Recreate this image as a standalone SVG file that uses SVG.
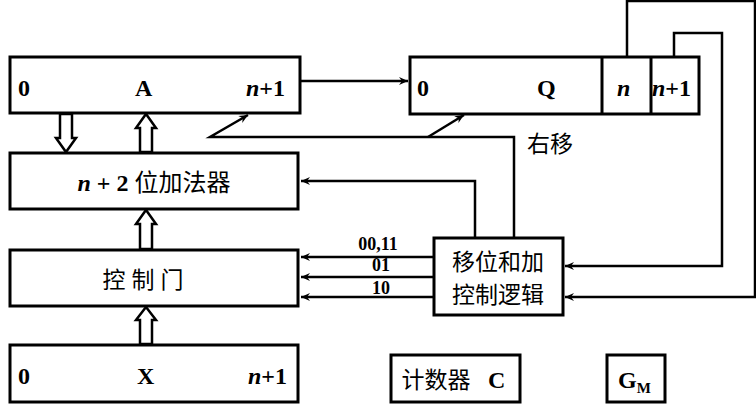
<svg xmlns="http://www.w3.org/2000/svg" width="756" height="412" viewBox="0 0 756 412">
<style>
.b{fill:#fff;stroke:#000;stroke-width:3}
.l{fill:none;stroke:#000;stroke-width:2.5}
.h{fill:#fff;stroke:#000;stroke-width:2.5}
.t{font-family:"Liberation Serif","Noto Sans CJK SC",serif;font-weight:bold;font-size:24px}
.c{font-family:"Noto Sans CJK SC",serif;font-size:23px}
.s{font-family:"Liberation Serif",serif;font-weight:bold;font-size:18px}
</style>
<defs><marker id="a" markerWidth="10" markerHeight="10" refX="9" refY="5" orient="auto" markerUnits="userSpaceOnUse"><path d="M0,1 L9,5 L0,9 L3,5Z"/></marker></defs>
<rect width="756" height="412" fill="#fff"/>
<g id="regA"><rect class="b" x="10" y="57" width="290" height="56"/><text class="t" x="18" y="96">0</text><text class="t" x="135" y="96">A</text><text class="t" x="246" y="96"><tspan font-style="italic">n</tspan>+1</text></g>
<g id="regQ"><rect class="b" x="410" y="57" width="289" height="57"/><line class="b" x1="602" y1="57" x2="602" y2="114"/><line class="b" x1="651" y1="57" x2="651" y2="114"/><text class="t" x="417" y="96">0</text><text class="t" x="537" y="96">Q</text><text class="t" x="617" y="96" font-style="italic">n</text><text class="t" x="652" y="96"><tspan font-style="italic">n</tspan>+1</text></g>
<g id="adder"><rect class="b" x="10" y="153" width="288" height="56"/><text class="t" x="154" y="191" text-anchor="middle"><tspan font-style="italic">n</tspan> + 2 <tspan font-weight="normal" font-family="Noto Sans CJK SC,serif">位加法器</tspan></text></g>
<g id="gate"><rect class="b" x="10" y="250" width="288" height="56"/><text class="c" x="146" y="288" text-anchor="middle" letter-spacing="6">控制门</text></g>
<g id="regX"><rect class="b" x="10" y="345" width="288" height="57"/><text class="t" x="18" y="384">0</text><text class="t" x="137" y="384">X</text><text class="t" x="248" y="384"><tspan font-style="italic">n</tspan>+1</text></g>
<g id="logic"><rect class="b" x="434" y="238" width="129" height="77"/><text class="c" x="498" y="270" text-anchor="middle">移位和加</text><text class="c" x="498" y="303" text-anchor="middle">控制逻辑</text></g>
<g id="counter"><rect class="b" x="391" y="355" width="129" height="47"/><text class="c" x="436" y="388" text-anchor="middle">计数器</text><text class="t" x="488" y="388">C</text></g>
<g id="gm"><rect class="b" x="607" y="355" width="58" height="47"/><text class="t" x="618" y="388">G<tspan font-size="15" dy="5">M</tspan></text></g>
<text class="c" x="527" y="152">右移</text>
<g id="connectors">
<line class="l" x1="300" y1="81" x2="408" y2="81" marker-end="url(#a)"/>
<polyline class="l" points="627,57 627,1 755,1 755,297 565,297" marker-end="url(#a)"/>
<polyline class="l" points="674,57 674,33 722,33 722,266 565,266" marker-end="url(#a)"/>
<polyline class="l" points="514,238 514,137 210,137 248,115" marker-end="url(#a)"/>
<line class="l" x1="428" y1="137" x2="464" y2="115" marker-end="url(#a)"/>
<polyline class="l" points="475,238 475,181 301,181" marker-end="url(#a)"/>
<line class="l" x1="434" y1="257" x2="301" y2="257" marker-end="url(#a)"/>
<line class="l" x1="434" y1="277" x2="301" y2="277" marker-end="url(#a)"/>
<line class="l" x1="434" y1="297" x2="301" y2="297" marker-end="url(#a)"/>
<text class="s" x="378" y="250" text-anchor="middle">00,11</text>
<text class="s" x="381" y="271" text-anchor="middle">01</text>
<text class="s" x="381" y="294" text-anchor="middle">10</text>
<polygon class="h" points="60,114 60,138 56,138 66,152 76,138 72,138 72,114"/>
<polygon class="h" points="140,152 140,128 136,128 146,114 156,128 152,128 152,152"/>
<polygon class="h" points="140,249 140,224 136,224 146,210 156,224 152,224 152,249"/>
<polygon class="h" points="140,344 140,320 136,320 146,307 156,320 152,320 152,344"/>
</g>
</svg>
